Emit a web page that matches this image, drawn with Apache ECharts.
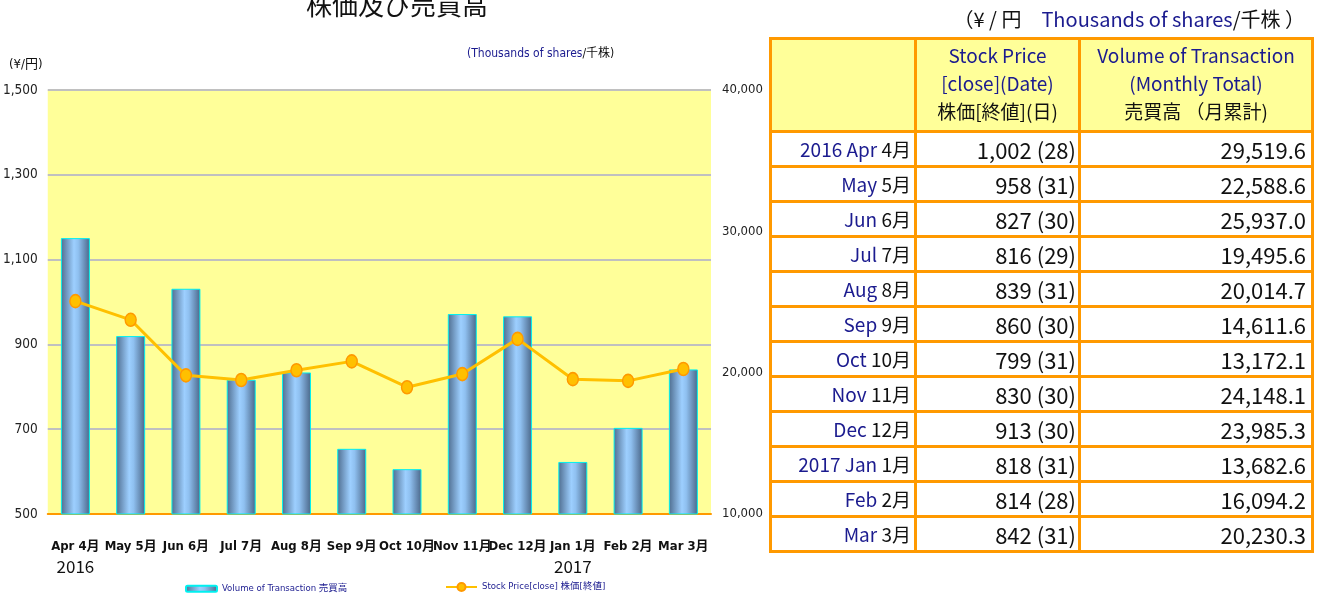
<!DOCTYPE html>
<html>
<head>
<meta charset="utf-8">
<script src="https://cdn.jsdelivr.net/npm/echarts@6/dist/echarts.min.js"></script>
<style>
  html, body { margin: 0; padding: 0; background: #fff; }
  #chart { position: absolute; left: 0; top: 0; width: 1319px; height: 596px; }
  #unit { position: absolute; right: 14px; top: 4px; font: 20px 'Noto Sans CJK JP', sans-serif; color: #111; white-space: nowrap; }
  .navy { color: #1b1b8f; }
  #tbl { position: absolute; left: 769px; top: 37px; border-collapse: collapse; table-layout: fixed; font-family: 'Noto Sans CJK JP', sans-serif; }
  #tbl td { border: 3.5px solid #FF9900; padding: 0; overflow: hidden; white-space: nowrap; }
  #tbl tr.head td { background: #FFFF99; text-align: center; font-size: 19px; line-height: 28px; vertical-align: top; padding-top: 1px; color: #111; }
  #tbl tr.row td { height: 32px; line-height: 32px; background: #fff; text-align: right; color: #111; }
  #tbl td.m { font-size: 19px; padding-right: 3px; }
  #tbl td.p { font-size: 22px; padding-right: 2px; }
  #tbl td.v { font-size: 22px; padding-right: 5px; }
</style>
</head>
<body>
<div id="chart"></div>
<div id="unit">（¥ / 円　<span class="navy">Thousands of shares</span>/千株 ）</div>
<table id="tbl"></table>
<script>
// Fiscal year April 2016 – March 2017
const monthsEn = ['Apr', 'May', 'Jun', 'Jul', 'Aug', 'Sep', 'Oct', 'Nov', 'Dec', 'Jan', 'Feb', 'Mar'];
const monthsJa = ['4月', '5月', '6月', '7月', '8月', '9月', '10月', '11月', '12月', '1月', '2月', '3月'];
const yearMarks = ['2016', '', '', '', '', '', '', '', '', '2017', '', ''];
// Closing price (yen) and the day of the month it was recorded
const closePrice = [1002, 958, 827, 816, 839, 860, 799, 830, 913, 818, 814, 842];
const closeDay = [28, 31, 30, 29, 31, 30, 31, 30, 30, 31, 28, 31];
// Monthly traded volume (thousands of shares)
const volume = [29519.6, 22588.6, 25937.0, 19495.6, 20014.7, 14611.6, 13172.1, 24148.1, 23985.3, 13682.6, 16094.2, 20230.3];

const narrow = "'Liberation Sans Narrow','DejaVu Sans Condensed','Noto Sans CJK JP',sans-serif";
const cjk = "'Noto Sans CJK JP',sans-serif";
const fmt = (v, d) => v.toLocaleString('en-US', { minimumFractionDigits: d, maximumFractionDigits: d });

const nameVol = 'Volume of Transaction 売買高';
const namePrice = 'Stock Price[close] 株価[終値]';

const chart = echarts.init(document.getElementById('chart'));
chart.setOption({
  animation: false,
  grid: { left: 47, right: 608, top: 90, bottom: 82, show: true, backgroundColor: '#FFFF99', borderWidth: 0 },
  legend: [
    { data: [nameVol], left: 185, top: 584, padding: 0, itemWidth: 31, itemHeight: 6, itemGap: 3, textStyle: { fontFamily: narrow, fontSize: 9.5, color: '#1b1b8f' } },
    { data: [namePrice], left: 445, top: 582, padding: 0, itemWidth: 31, itemHeight: 10, textStyle: { fontFamily: narrow, fontSize: 9.5, color: '#1b1b8f' } }
  ],
  xAxis: {
    type: 'category',
    data: monthsEn.map((m, i) => m + ' ' + monthsJa[i]),
    axisLine: { lineStyle: { color: '#FF9900', width: 2 } },
    axisTick: { show: false },
    axisLabel: {
      interval: 0,
      margin: 24,
      formatter: (v, i) => '{m|' + v + '}\n{y|' + (yearMarks[i] || ' ') + '}',
      rich: {
        m: { fontFamily: narrow, fontSize: 13, fontWeight: 'bold', color: '#111', lineHeight: 18 },
        y: { fontFamily: cjk, fontSize: 17, color: '#111', lineHeight: 22 }
      }
    }
  },
  yAxis: [
    {
      type: 'value', min: 500, max: 1500, interval: 200,
      axisLine: { show: false }, axisTick: { show: false },
      splitLine: { lineStyle: { color: '#C0C0C0', width: 2 } },
      axisLabel: { margin: 10, fontFamily: narrow, fontSize: 13.5, color: '#222', formatter: v => fmt(v, 0) }
    },
    {
      type: 'value', min: 10000, max: 40000, interval: 10000,
      axisLine: { show: false }, axisTick: { show: false },
      splitLine: { show: false },
      axisLabel: { margin: 11, fontFamily: narrow, fontSize: 13, color: '#222', formatter: v => fmt(v, 0) }
    }
  ],
  series: [
    {
      name: nameVol, type: 'bar', yAxisIndex: 1, barWidth: 29, z: 2,
      data: volume,
      itemStyle: {
        color: new echarts.graphic.LinearGradient(0, 0, 1, 0, [
          { offset: 0, color: '#4f6d8f' },
          { offset: 0.45, color: '#9dcfff' },
          { offset: 0.6, color: '#8fc0f0' },
          { offset: 1, color: '#4a6688' }
        ]),
        borderColor: '#00F0F0', borderWidth: 1
      }
    },
    {
      name: namePrice, type: 'line', yAxisIndex: 0, z: 3,
      data: closePrice,
      symbol: 'circle', symbolSize: [11, 13],
      lineStyle: { color: '#FFC000', width: 3 },
      itemStyle: { color: '#FFC000', borderColor: '#FF9900', borderWidth: 1.5 }
    }
  ],
  graphic: [
    { type: 'text', x: 397, y: 5, style: { text: '株価及び売買高', font: "26px 'Noto Sans CJK JP'", fill: '#111', align: 'center', verticalAlign: 'middle' } },
    { type: 'text', left: 9, top: 58, style: { text: '(¥/円)', font: "13px " + narrow, fill: '#111' } },
    {
      type: 'text', left: 467, top: 48,
      style: {
        text: '{b|(Thousands of shares}{k|/千株)}',
        rich: {
          b: { fontFamily: narrow, fontSize: 12, fill: '#1b1b8f' },
          k: { fontFamily: narrow, fontSize: 12, fill: '#111' }
        }
      }
    }
  ]
});

// Monthly table: price [close](day) and monthly volume
const tbl = document.getElementById('tbl');
const colgroup = '<colgroup><col style="width:145px"><col style="width:164px"><col style="width:233px"></colgroup>';
let html = colgroup +
  '<tr class="head" style="height:93px"><td></td>' +
  '<td><span class="navy">Stock Price<br>[close](Date)</span><br>株価[終値](日)</td>' +
  '<td><span class="navy">Volume of Transaction<br>(Monthly Total)</span><br>売買高 （月累計)</td></tr>';
monthsEn.forEach((m, i) => {
  const label = (yearMarks[i] ? yearMarks[i] + ' ' : '') + m;
  html += '<tr class="row">' +
    '<td class="m"><span class="navy">' + label + '</span> ' + monthsJa[i] + '</td>' +
    '<td class="p">' + fmt(closePrice[i], 0) + ' (' + closeDay[i] + ')</td>' +
    '<td class="v">' + fmt(volume[i], 1) + '</td></tr>';
});
tbl.innerHTML = html;
</script>
</body>
</html>
